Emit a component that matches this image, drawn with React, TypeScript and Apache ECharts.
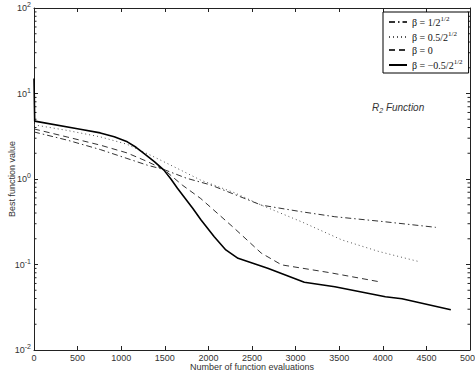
import React, { useEffect, useRef } from "react";
import * as echarts from "echarts";

// Convergence curves: best function value vs. number of function evaluations
const betaLabels = [
  "β = 1/2{sup|1/2}",
  "β = 0.5/2{sup|1/2}",
  "β = 0",
  "β = −0.5/2{sup|1/2}",
];

// [evaluations, best value]
const betaHalfSqrt: [number, number][] = [
  [0, 3.55], [380, 2.85], [760, 2.21], [1066, 1.74], [1300, 1.45], [1490, 1.29],
  [1750, 1.02], [2029, 0.85], [2350, 0.63], [2606, 0.495], [3068, 0.414],
  [3450, 0.362], [4000, 0.318], [4608, 0.272],
];
const betaQuarterSqrt: [number, number][] = [
  [0, 4.3], [380, 3.7], [760, 3.11], [1066, 2.55], [1336, 1.9], [1650, 1.32],
  [1912, 0.97], [2300, 0.69], [2606, 0.495], [3068, 0.316], [3530, 0.194],
  [3954, 0.142], [4416, 0.108],
];
const betaZero: [number, number][] = [
  [0, 3.85], [380, 3.1], [760, 2.49], [1066, 2.02], [1300, 1.6], [1490, 1.29],
  [1700, 0.85], [1913, 0.59], [2298, 0.265], [2606, 0.136], [2840, 0.099],
  [3400, 0.08], [3954, 0.063],
];
const betaNegQuarterSqrt: [number, number][] = [
  [0, 15], [8, 4.75], [530, 3.82], [760, 3.46], [920, 3.12], [1070, 2.72],
  [1170, 2.35], [1260, 1.99], [1380, 1.6], [1490, 1.27], [1570, 1.0],
  [1645, 0.78], [1730, 0.6], [1820, 0.454], [1916, 0.331], [2067, 0.211],
  [2200, 0.148], [2340, 0.118], [2680, 0.0906], [3100, 0.062], [3450, 0.055],
  [4030, 0.042], [4220, 0.0398], [4780, 0.0295],
];

const xTicks = { min: 0, max: 5000, interval: 500 };
const yDecades = [0.01, 0.1, 1, 10, 100];

// minor tick positions 2..9 within each decade of the log axis
const minorTicks: [number, number][] = [];
for (let d = 0; d < yDecades.length - 1; d++) {
  for (let m = 2; m <= 9; m++) minorTicks.push([0, yDecades[d] * m]);
}

const AXIS = "#222";
const TEXT = "#333";

export default function App() {
  const ref = useRef<HTMLDivElement>(null);

  useEffect(() => {
    if (!ref.current) return;
    const chart = echarts.init(ref.current, null, { renderer: "svg" });

    const baseTick = {
      show: true,
      inside: true,
      length: 4,
      lineStyle: { color: AXIS, width: 1 },
    };
    const frameLine = { show: true, onZero: false, lineStyle: { color: AXIS, width: 1 } };

    const supRich = {
      sup: { fontSize: 7, padding: [0, 0, 7, 0], color: TEXT, fontFamily: "Liberation Sans" },
    };

    const lineSeries = (name: string, data: [number, number][], color: string, width: number, type: any) => ({
      name,
      type: "line",
      data,
      symbol: "none",
      itemStyle: { color },
      lineStyle: { color, width, type },
    });

    chart.setOption({
      animation: false,
      backgroundColor: "#fff",
      grid: { left: 34, right: 5, top: 8, bottom: 25, outerBoundsMode: "none", containLabel: false },
      xAxis: [
        {
          type: "value",
          min: xTicks.min,
          max: xTicks.max,
          interval: xTicks.interval,
          position: "bottom",
          name: "Number of function evaluations",
          nameLocation: "middle",
          nameGap: 12,
          nameMoveOverlap: false,
          nameTextStyle: { fontSize: 9, color: TEXT, fontFamily: "Liberation Sans" },
          axisLine: frameLine,
          axisTick: baseTick,
          axisLabel: {
            fontSize: 9,
            color: TEXT,
            margin: 3,
            fontFamily: "Liberation Sans",
            hideOverlap: false,
            formatter: (v: number) => String(v),
          },
          splitLine: { show: false },
        },
        {
          type: "value",
          min: xTicks.min,
          max: xTicks.max,
          interval: xTicks.interval,
          position: "top",
          axisLine: frameLine,
          axisTick: baseTick,
          axisLabel: { show: false },
          splitLine: { show: false },
        },
      ],
      yAxis: [
        {
          type: "log",
          logBase: 10,
          min: yDecades[0],
          max: yDecades[yDecades.length - 1],
          position: "left",
          name: "Best function value",
          nameLocation: "middle",
          nameGap: 18,
          nameMoveOverlap: false,
          nameTextStyle: { fontSize: 9, color: TEXT, fontFamily: "Liberation Sans" },
          axisLine: frameLine,
          axisTick: baseTick,
          axisLabel: {
            fontSize: 9,
            color: TEXT,
            margin: 3,
            fontFamily: "Liberation Sans",
            formatter: (v: number) => `10{sup|${Math.round(Math.log10(v))}}`,
            rich: supRich,
          },
          splitLine: { show: false },
        },
        {
          type: "log",
          logBase: 10,
          min: yDecades[0],
          max: yDecades[yDecades.length - 1],
          position: "right",
          axisLine: frameLine,
          axisTick: baseTick,
          axisLabel: { show: false },
          splitLine: { show: false },
        },
      ],
      legend: {
        data: betaLabels,
        orient: "vertical",
        left: 383,
        top: 12,
        padding: [3, 6, 3, 5],
        itemGap: 3,
        itemWidth: 18,
        itemHeight: 9,
        backgroundColor: "#fff",
        borderColor: "#000",
        borderWidth: 1,
        borderRadius: 0,
        itemStyle: { color: "transparent", borderWidth: 0, opacity: 0 },
        textStyle: {
          fontSize: 10,
          color: "#111",
          fontFamily: "Liberation Serif",
          rich: {
            sup: { fontSize: 7, padding: [0, 0, 7, 0], color: "#111", fontFamily: "Liberation Serif" },
          },
        },
      },
      graphic: [
        {
          type: "text",
          left: 372,
          top: 102,
          style: {
            text: "R{sub|2} Function",
            fontSize: 10,
            fontStyle: "italic",
            fontFamily: "Liberation Sans",
            fill: TEXT,
            rich: {
              sub: { fontSize: 7, padding: [6, 0, 0, 0], fontStyle: "italic", fontFamily: "Liberation Sans", fill: TEXT },
            },
          },
        },
      ],
      series: [
        lineSeries(betaLabels[0], betaHalfSqrt, "#333", 1, [6, 3, 1.5, 3]),
        lineSeries(betaLabels[1], betaQuarterSqrt, "#555", 1, [1, 3]),
        lineSeries(betaLabels[2], betaZero, "#333", 1, [6, 4]),
        lineSeries(betaLabels[3], betaNegQuarterSqrt, "#000", 1.6, "solid"),
        {
          name: "minor-ticks",
          type: "custom",
          silent: true,
          clip: false,
          data: minorTicks,
          renderItem: (_params: any, api: any) => {
            const v = api.value(1);
            const l = api.coord([xTicks.min, v]);
            const r = api.coord([xTicks.max, v]);
            const style = { stroke: AXIS, lineWidth: 1 };
            return {
              type: "group",
              children: [
                { type: "line", shape: { x1: l[0], y1: l[1], x2: l[0] + 2.5, y2: l[1] }, style },
                { type: "line", shape: { x1: r[0], y1: r[1], x2: r[0] - 2.5, y2: r[1] }, style },
              ],
            };
          },
        },
      ],
    });

    return () => chart.dispose();
  }, []);

  return (
    <div
      ref={ref}
      style={{ position: "fixed", left: 0, top: 0, width: 475, height: 375 }}
    />
  );
}
